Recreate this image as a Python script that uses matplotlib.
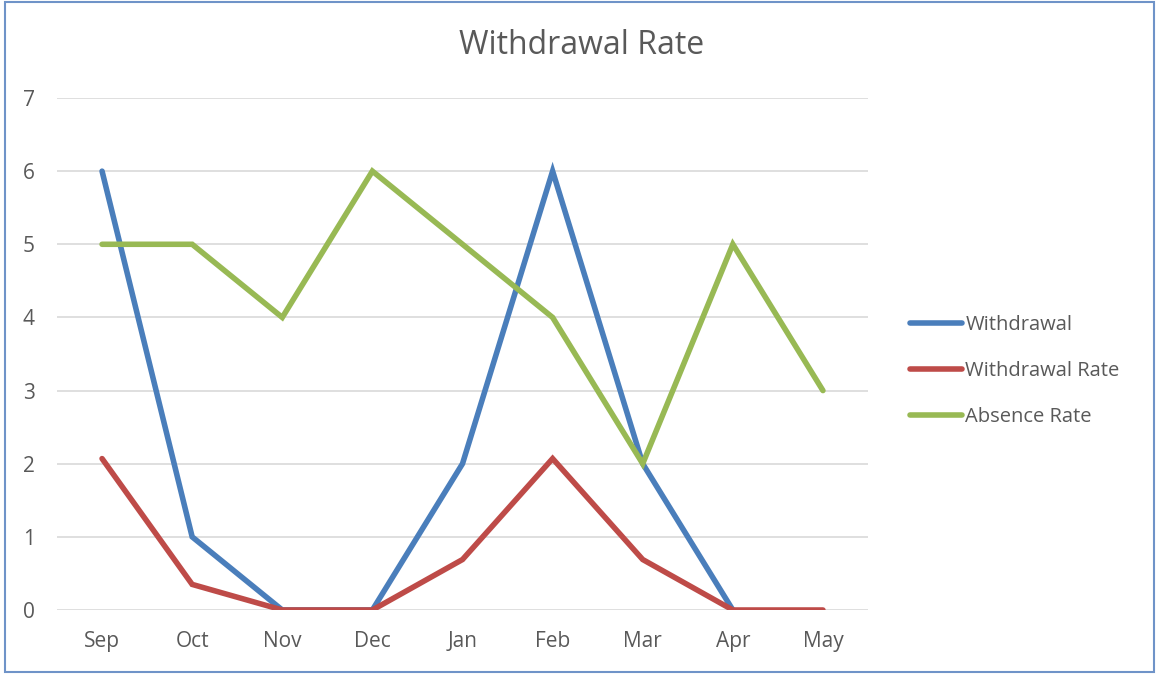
import numpy as np
import matplotlib
matplotlib.use('Agg')
import matplotlib.pyplot as plt
from matplotlib.patches import Rectangle

plt.rcParams['font.family'] = ['Open Sans', 'DejaVu Sans']

# data
months = ['Sep', 'Oct', 'Nov', 'Dec', 'Jan', 'Feb', 'Mar', 'Apr', 'May']
withdrawal = [6, 1, 0, 0, 2, 6, 2, 0, np.nan]
withdrawal_rate = [2.07, 0.35, 0, 0, 0.69, 2.07, 0.69, 0, 0]
absence_rate = [5, 5, 4, 6, 5, 4, 2, 5, 3]

fig = plt.figure(figsize=(11.56, 6.74), dpi=100)
ax = fig.add_axes([57 / 1156, 1 - 610 / 674, (868 - 57) / 1156, (610 - 98) / 674])

x = np.arange(len(months))
ax.plot(x, withdrawal, color='#4A7EBB', lw=4, solid_capstyle='round',
        solid_joinstyle='miter', label='Withdrawal', zorder=3)
ax.plot(x, withdrawal_rate, color='#BE4B48', lw=4, solid_capstyle='round',
        solid_joinstyle='miter', label='Withdrawal Rate', zorder=3)
ax.plot(x, absence_rate, color='#98B954', lw=4, solid_capstyle='round',
        solid_joinstyle='miter', label='Absence Rate', zorder=3)

ax.set_xlim(-0.5, len(months) - 0.5)
ax.set_ylim(0, 7)
ax.set_xticks(x)
ax.set_xticklabels(months)
ax.set_yticks(range(8))
ax.tick_params(length=0, labelsize=15, labelcolor='#595959')
ax.tick_params(axis='x', pad=15)
ax.tick_params(axis='y', pad=16)
ax.grid(axis='y', color='#D9D9D9', lw=1.2)
ax.set_axisbelow(True)
for s in ax.spines.values():
    s.set_visible(False)

fig.text(582 / 1156, 1 - 45 / 674, 'Withdrawal Rate', ha='center', va='center',
         fontsize=23, color='#595959')

leg = ax.legend(loc='center left', bbox_to_anchor=(910 / 1156, 1 - 371 / 674),
                bbox_transform=fig.transFigure, frameon=False, fontsize=14.5,
                handlelength=2.6, handletextpad=0.15, labelspacing=1.3,
                borderpad=0, borderaxespad=0, labelcolor='#595959')

fig.patches.append(Rectangle((5 / 1156, 2 / 674), 1149 / 1156, 670 / 674,
                             transform=fig.transFigure, fill=False,
                             edgecolor='#6F93C8', lw=1.5))

fig.savefig('out.png', dpi=100)
